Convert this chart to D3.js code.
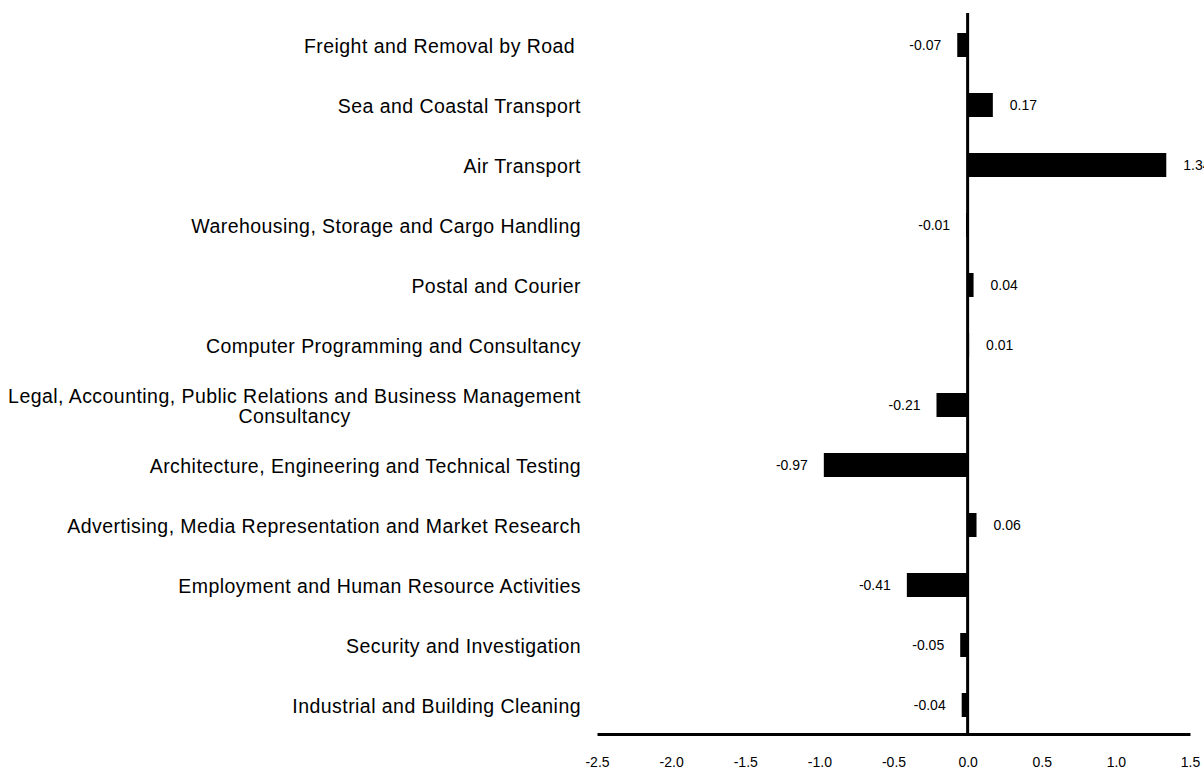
<!DOCTYPE html>
<html>
<head>
<meta charset="utf-8">
<script src="https://cdn.jsdelivr.net/npm/d3@7"></script>
<style>
  body { margin: 0; background: #fff; }
  text { font-family: Arial, "Liberation Sans", sans-serif; fill: #000; }
</style>
</head>
<body>
<div id="chart"></div>
<script>
// Horizontal bar chart, categories top to bottom
const categories = [
    ['Freight and Removal by Road '],
    ['Sea and Coastal Transport'],
    ['Air Transport'],
    ['Warehousing, Storage and Cargo Handling'],
    ['Postal and Courier'],
    ['Computer Programming and Consultancy'],
    ['Legal, Accounting, Public Relations and Business Management', 'Consultancy'],
    ['Architecture, Engineering and Technical Testing'],
    ['Advertising, Media Representation and Market Research'],
    ['Employment and Human Resource Activities'],
    ['Security and Investigation'],
    ['Industrial and Building Cleaning']
];
const values = [-0.07, 0.17, 1.34, -0.01, 0.04, 0.01, -0.21, -0.97, 0.06, -0.41, -0.05, -0.04];
const xTicks = [-2.5, -2.0, -1.5, -1.0, -0.5, 0.0, 0.5, 1.0, 1.5];

const width = 1204;
const height = 771;

const svg = d3.select('#chart')
    .append('svg')
    .attr('width', width)
    .attr('height', height);

// scales
const x = d3.scaleLinear()
    .domain([-2.5, 1.5])
    .range([597, 1190]);

const y = d3.scaleBand()
    .domain(d3.range(categories.length))
    .range([15, 735])
    .paddingInner(0.6)
    .paddingOuter(0.3);

// bars
svg.append('g')
    .selectAll('rect')
    .data(values)
    .enter()
    .append('rect')
    .attr('x', d => x(Math.min(0, d)))
    .attr('y', (d, i) => y(i))
    .attr('width', d => Math.abs(x(d) - x(0)))
    .attr('height', y.bandwidth())
    .attr('fill', '#000');

// value labels (1.34 runs off the right edge, as in the original)
svg.append('g')
    .selectAll('text')
    .data(values)
    .enter()
    .append('text')
    .attr('x', d => d < 0 ? x(d) - 16 : x(d) + 17)
    .attr('y', (d, i) => y(i) + y.bandwidth() / 2)
    .attr('dy', '0.35em')
    .attr('text-anchor', d => d < 0 ? 'end' : 'start')
    .attr('font-size', '14px')
    .text(d => d.toFixed(2));

// category labels (multi-line ones are centred as a block, block right aligned)
const labelRight = 581;
const lineH = 20;
const catG = svg.append('g')
    .attr('font-size', '19.5px')
    .attr('letter-spacing', '0.45px');
categories.forEach((lines, i) => {
    const cy = y(i) + y.bandwidth() / 2;
    const t = catG.append('text')
        .attr('y', cy - (lines.length - 1) * lineH / 2 + 1)
        .style('white-space', 'pre');
    lines.forEach((ln, k) => {
        t.append('tspan')
            .attr('x', 0)
            .attr('dy', k === 0 ? '0.35em' : lineH)
            .text(ln);
    });
    if (lines.length === 1) {
        t.attr('text-anchor', 'end');
        t.selectAll('tspan').attr('x', labelRight);
    } else {
        let maxW = 0;
        t.selectAll('tspan').each(function() {
            maxW = Math.max(maxW, this.getComputedTextLength());
        });
        t.attr('text-anchor', 'middle');
        t.selectAll('tspan').attr('x', labelRight - maxW / 2);
    }
});

// x axis
const xAxis = d3.axisBottom(x)
    .tickValues(xTicks)
    .tickSize(0)
    .tickPadding(23)
    .tickFormat(d => d.toFixed(1));

const axG = svg.append('g')
    .attr('transform', `translate(0,${y.range()[1] - 1})`)
    .call(xAxis);
axG.select('.domain')
    .attr('stroke', '#000')
    .attr('stroke-width', 3);
axG.selectAll('.tick text')
    .attr('font-size', '14px')
    .attr('font-family', 'Arial, "Liberation Sans", sans-serif')
    .attr('fill', '#000');

// zero line
svg.append('line')
    .attr('x1', x(0))
    .attr('x2', x(0))
    .attr('y1', 13)
    .attr('y2', y.range()[1])
    .attr('stroke', '#000')
    .attr('stroke-width', 3);
</script>
</body>
</html>
